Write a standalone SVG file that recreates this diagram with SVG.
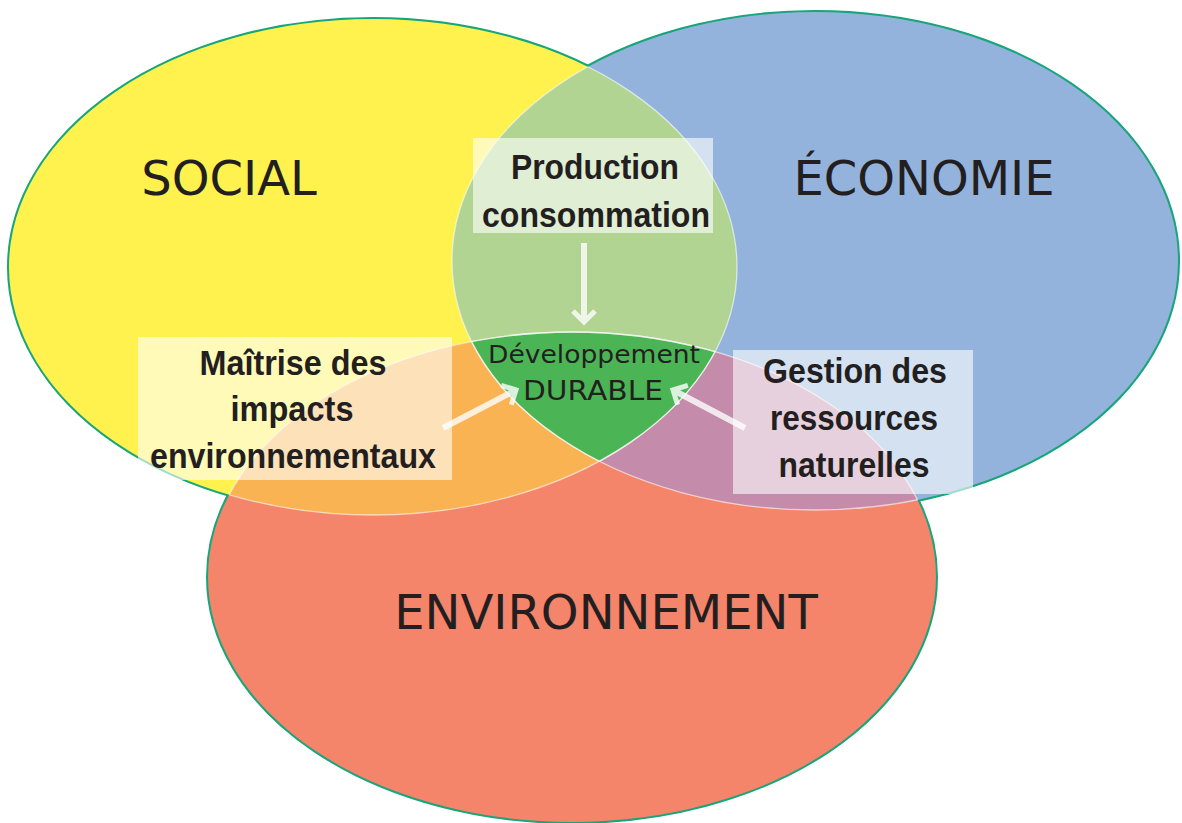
<svg xmlns="http://www.w3.org/2000/svg" width="1182" height="823" viewBox="0 0 1182 823">
<style>
.outline{fill:none;stroke:#17a57a;stroke-width:4}
.inner{fill:none;stroke:#ffffff;stroke-opacity:0.6;stroke-width:1.3}
.box{fill:#ffffff;fill-opacity:0.6}
.lbl{font-family:"Liberation Sans",Arial,sans-serif;font-weight:bold;font-size:35px;fill:#231f20;text-anchor:middle}
.big{font-family:"DejaVu Sans",sans-serif;font-size:48px;fill:#231f20;text-anchor:middle}
.dd{font-family:"DejaVu Sans",sans-serif;fill:#231f20;text-anchor:middle}
.arr{fill:none;stroke:#ffffff;stroke-width:6}
</style>
<defs>
<clipPath id="cY"><ellipse cx="373" cy="267" rx="364" ry="248"/></clipPath>
<clipPath id="cB"><ellipse cx="815" cy="261" rx="363" ry="249"/></clipPath>
<clipPath id="cR"><ellipse cx="572" cy="577" rx="364" ry="245"/></clipPath>
<marker id="chev" markerUnits="userSpaceOnUse" viewBox="-16 -14 20 28" refX="0" refY="0" markerWidth="20" markerHeight="28" orient="auto">
<path d="M-11,-11 L0,0 L-11,11" fill="none" stroke="#ffffff" stroke-width="5"/>
</marker>
</defs>
<rect width="1182" height="823" fill="#ffffff"/>
<g id="outlines">
<ellipse class="outline" cx="373" cy="267" rx="364" ry="248"/>
<ellipse class="outline" cx="815" cy="261" rx="363" ry="249"/>
<ellipse class="outline" cx="572" cy="577" rx="364" ry="245"/>
</g>
<g id="social">
<ellipse cx="373" cy="267" rx="364" ry="248" fill="#fff24f"/>
</g>
<g id="economie">
<ellipse cx="815" cy="261" rx="363" ry="249" fill="#93b3dc"/>
</g>
<g id="environnement">
<ellipse cx="572" cy="577" rx="364" ry="245" fill="#f4846a"/>
</g>
<g id="overlaps">
<g clip-path="url(#cY)"><ellipse cx="815" cy="261" rx="363" ry="249" fill="#b1d492"/></g>
<g clip-path="url(#cY)"><ellipse cx="572" cy="577" rx="364" ry="245" fill="#f9b352"/></g>
<g clip-path="url(#cB)"><ellipse cx="572" cy="577" rx="364" ry="245" fill="#c48bab"/></g>
<g clip-path="url(#cY)"><g clip-path="url(#cB)"><ellipse cx="572" cy="577" rx="364" ry="245" fill="#4bb556"/></g></g>
</g>
<g id="inner-edges">
<g clip-path="url(#cB)"><ellipse class="inner" cx="373" cy="267" rx="364" ry="248"/></g>
<g clip-path="url(#cR)"><ellipse class="inner" cx="373" cy="267" rx="364" ry="248"/></g>
<g clip-path="url(#cY)"><ellipse class="inner" cx="815" cy="261" rx="363" ry="249"/></g>
<g clip-path="url(#cR)"><ellipse class="inner" cx="815" cy="261" rx="363" ry="249"/></g>
<g clip-path="url(#cY)"><ellipse class="inner" cx="572" cy="577" rx="364" ry="245"/></g>
<g clip-path="url(#cB)"><ellipse class="inner" cx="572" cy="577" rx="364" ry="245"/></g>
</g>
<g id="titles">
<text class="big" x="229" y="195">SOCIAL</text>
<text class="big" x="924" y="195">ÉCONOMIE</text>
<text class="big" x="606" y="629">ENVIRONNEMENT</text>
</g>
<g id="production">
<rect class="box" x="473" y="138" width="240" height="95"/>
<text class="lbl" x="595" y="179" textLength="168" lengthAdjust="spacingAndGlyphs">Production</text>
<text class="lbl" x="596" y="227" textLength="228" lengthAdjust="spacingAndGlyphs">consommation</text>
</g>
<g id="maitrise">
<rect class="box" x="138" y="337" width="314" height="143"/>
<text class="lbl" x="293" y="375" textLength="187" lengthAdjust="spacingAndGlyphs">Maîtrise des</text>
<text class="lbl" x="292" y="421" textLength="123" lengthAdjust="spacingAndGlyphs">impacts</text>
<text class="lbl" x="293" y="468" textLength="286" lengthAdjust="spacingAndGlyphs">environnementaux</text>
</g>
<g id="gestion">
<rect class="box" x="733" y="350" width="240" height="144"/>
<text class="lbl" x="855" y="383" textLength="184" lengthAdjust="spacingAndGlyphs">Gestion des</text>
<text class="lbl" x="854" y="430" textLength="168" lengthAdjust="spacingAndGlyphs">ressources</text>
<text class="lbl" x="854" y="477" textLength="151" lengthAdjust="spacingAndGlyphs">naturelles</text>
</g>
<g id="durable">
<text class="dd" x="594" y="363" font-size="25" textLength="212" lengthAdjust="spacingAndGlyphs">Développement</text>
<text class="dd" x="593" y="400" font-size="26" textLength="140" lengthAdjust="spacingAndGlyphs">DURABLE</text>
</g>
<g id="connectors" opacity="0.8">
<line class="arr" x1="584" y1="243" x2="584" y2="322" marker-end="url(#chev)"/>
<line class="arr" x1="443" y1="428" x2="516" y2="390" marker-end="url(#chev)"/>
<line class="arr" x1="745" y1="428" x2="673" y2="390" marker-end="url(#chev)"/>
</g>
</svg>
